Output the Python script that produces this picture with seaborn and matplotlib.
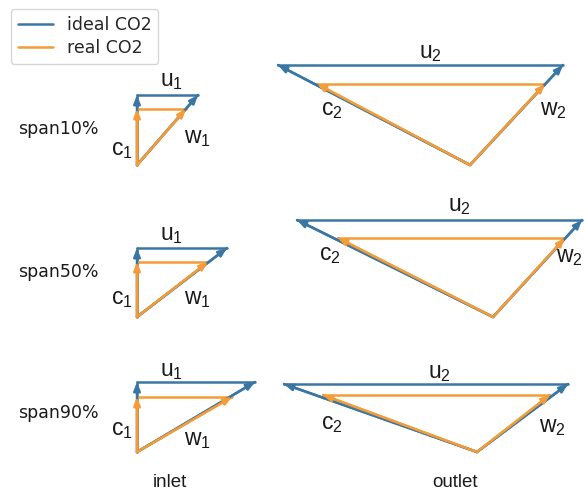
import numpy as np
import pandas as pd
import matplotlib
matplotlib.use("Agg")
import matplotlib.pyplot as plt
import seaborn as sns

# Velocity triangle components per blade span (drawing units)
spans = ["span10%", "span50%", "span90%"]
cases = ["ideal CO2", "real CO2"]

# inlet: axial velocity c1 and blade speed u1
inlet_c_ideal = [70, 69, 70]
inlet_u_ideal = [61, 90, 118]
inlet_c_real = [56, 55, 55]
inlet_u_real = [49, 71, 95]

# outlet: axial height, tangential part of c2 (leftwards) and of w2 (rightwards)
outlet_h_ideal = [100, 97, 68]
outlet_cu_ideal = [192, 196, 193]
outlet_wu_ideal = [93, 89, 91]
outlet_h_real = [81, 79, 57]
outlet_cu_real = [153, 155, 154]
outlet_wu_real = [75, 72, 73]

# layout of the triangle origins on the canvas
inlet_x0 = 137
row_y0 = [165, 317, 452]
outlet_x0 = [470, 493, 477]

colors = {"ideal CO2": "#3a76a3", "real CO2": "#f39c38"}

sns.set_theme(style="white")
plt.rcParams["font.family"] = ["DejaVu Sans"]
plt.rcParams["mathtext.fontset"] = "custom"
plt.rcParams["mathtext.rm"] = "Liberation Sans"
plt.rcParams["mathtext.it"] = "Liberation Sans"

fig = plt.figure(figsize=(5.84, 4.90), dpi=100)
ax = fig.add_axes([0, 0, 1, 1])

# build segments: each triangle is origin -> c tip, origin -> w tip, and u line
rows = []
arrows = []  # (case, x0, y0, x1, y1)
seg = 0
for i in range(3):
    y0 = row_y0[i]
    for case, cvals, uvals in [("ideal CO2", inlet_c_ideal, inlet_u_ideal),
                               ("real CO2", inlet_c_real, inlet_u_real)]:
        c, u = cvals[i], uvals[i]
        ctip = (inlet_x0, y0 - c)
        wtip = (inlet_x0 + u, y0 - c)
        for p, q in [((inlet_x0, y0), ctip), ((inlet_x0, y0), wtip), (ctip, wtip)]:
            rows += [dict(x=p[0], y=p[1], case=case, seg=seg),
                     dict(x=q[0], y=q[1], case=case, seg=seg)]
            seg += 1
        arrows += [(case, inlet_x0, y0, *ctip), (case, inlet_x0, y0, *wtip)]
    ox = outlet_x0[i]
    for case, hv, cu, wu in [("ideal CO2", outlet_h_ideal, outlet_cu_ideal, outlet_wu_ideal),
                             ("real CO2", outlet_h_real, outlet_cu_real, outlet_wu_real)]:
        h = hv[i]
        ctip = (ox - cu[i], y0 - h)
        wtip = (ox + wu[i], y0 - h)
        for p, q in [((ox, y0), ctip), ((ox, y0), wtip), (ctip, wtip)]:
            rows += [dict(x=p[0], y=p[1], case=case, seg=seg),
                     dict(x=q[0], y=q[1], case=case, seg=seg)]
            seg += 1
        arrows += [(case, ox, y0, *ctip), (case, ox, y0, *wtip)]

df = pd.DataFrame(rows)
sns.lineplot(data=df, x="x", y="y", hue="case", units="seg", estimator=None,
             sort=False, palette=colors, hue_order=cases, lw=1.8, ax=ax,
             legend=True)

for case, x0, y0, x1, y1 in arrows:
    ax.annotate("", xy=(x1, y1), xytext=(x0, y0),
                arrowprops=dict(arrowstyle="-|>,head_length=0.55,head_width=0.22",
                                mutation_scale=9, lw=1.8, color=colors[case],
                                shrinkA=0, shrinkB=0))

ax.set_xlim(0, 584)
ax.set_ylim(490, 0)
ax.axis("off")

lab = dict(fontsize=16.5, ha="center", va="center", color="#1a1a1a")
inlet_labels = [((172, 80), (122, 149), (197, 137)),
                ((172, 234), (122, 298), (197, 298)),
                ((172, 370), (122, 429), (197, 439))]
outlet_labels = [((430, 52), (332, 109), (553, 109)),
                 ((459, 205), (330, 254), (569, 257)),
                 ((439, 372), (332, 423), (552, 426))]
for i in range(3):
    (ux, uy), (cx, cy), (wx, wy) = inlet_labels[i]
    ax.text(ux, uy, r"$\mathrm{u_1}$", **lab)
    ax.text(cx, cy, r"$\mathrm{c_1}$", **lab)
    ax.text(wx, wy, r"$\mathrm{w_1}$", **lab)
    (ux, uy), (cx, cy), (wx, wy) = outlet_labels[i]
    ax.text(ux, uy, r"$\mathrm{u_2}$", **lab)
    ax.text(cx, cy, r"$\mathrm{c_2}$", **lab)
    ax.text(wx, wy, r"$\mathrm{w_2}$", **lab)

span_y = [129, 272, 413]
for name, y in zip(spans, span_y):
    ax.text(18, y, name, fontsize=12.5, ha="left", va="center", color="#1a1a1a")

ax.text(170, 482, "inlet", fontsize=13.5, family="Liberation Sans",
        ha="center", va="center", color="#1a1a1a")
ax.text(455, 482, "outlet", fontsize=13.5, family="Liberation Sans",
        ha="center", va="center", color="#1a1a1a")

leg = ax.legend(loc="upper left", bbox_to_anchor=(0.004, 1.0), fontsize=12.5,
                frameon=True, handlelength=2.0, borderpad=0.4, labelspacing=0.3)
leg.get_frame().set_edgecolor("#cccccc")
for line in leg.get_lines():
    line.set_linewidth(1.8)

fig.savefig("out.png", dpi=100)
